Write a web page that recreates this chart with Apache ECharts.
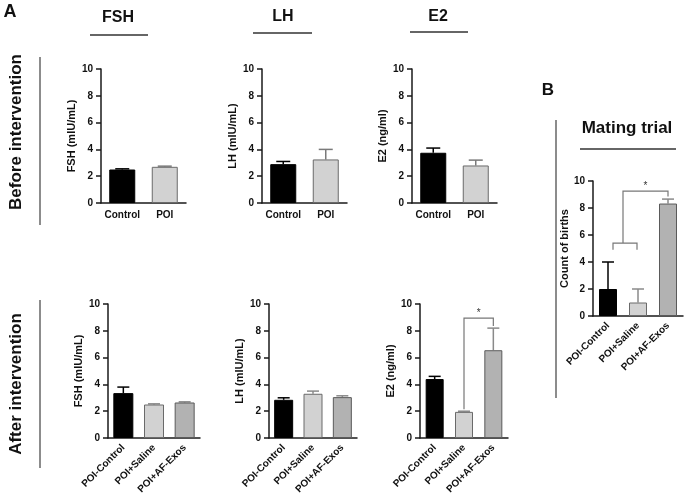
<!DOCTYPE html>
<html><head><meta charset="utf-8">
<script src="https://cdn.jsdelivr.net/npm/echarts@6/dist/echarts.min.js"></script>
<style>html,body{margin:0;padding:0;background:#fff}#c{width:685px;height:499px}</style>
</head><body><div id="c"></div>
<script>
// ---- data ----
const beforeCats = ['Control', 'POI'];
const afterCats = ['POI-Control', 'POI+Saline', 'POI+AF-Exos'];
const yTicks = [0, 2, 4, 6, 8, 10];

const fshBefore = [2.5, 2.7];
const fshBeforeErr = [0.05, 0.05];
const lhBefore = [2.9, 3.25];
const lhBeforeErr = [0.2, 0.75];
const e2Before = [3.75, 2.8];
const e2BeforeErr = [0.35, 0.4];

const fshAfter = [3.35, 2.5, 2.65];
const fshAfterErr = [0.45, 0.05, 0.05];
const lhAfter = [2.85, 3.3, 3.05];
const lhAfterErr = [0.15, 0.2, 0.1];
const e2After = [4.4, 1.95, 6.55];
const e2AfterErr = [0.2, 0.05, 1.65];

const births = [2, 1, 8.33];
const birthsErr = [2, 1, 0.33];

// brackets: [leftCatA, leftCatB (averaged), rightCat, leftBottom, top, rightBottom, showStar]
const e2AfterBrackets = [[1, 1, 2, 2.15, 8.95, 8.35, 1]];
const birthsBrackets = [[0, 0, 1, 4.9, 5.4, 4.9, 0], [0, 1, 2, 5.4, 9.25, 8.85, 1]];

// ---- styles / layout ----
const FONT = 'Liberation Sans, Arial, sans-serif';
const fillBefore = ['#000000', '#d2d2d2'];
const fillAfter = ['#000000', '#d2d2d2', '#b2b2b2'];
const borderBefore = ['#000000', '#6a6a6a'];
const borderAfter = ['#000000', '#6a6a6a', '#5a5a5a'];
const errBefore = ['#000000', '#7a7a7a'];
const errAfter = ['#000000', '#8a8a8a', '#8a8a8a'];

const panels = [
  {grid: {left: 101, top: 69, width: 85, height: 134}, cats: beforeCats, vals: fshBefore, errs: fshBeforeErr, name: 'FSH (mIU/mL)', before: true, barW: 26, gap: 24},
  {grid: {left: 262, top: 69, width: 85, height: 134}, cats: beforeCats, vals: lhBefore, errs: lhBeforeErr, name: 'LH (mIU/mL)', before: true, barW: 26, gap: 24},
  {grid: {left: 412, top: 69, width: 85, height: 134}, cats: beforeCats, vals: e2Before, errs: e2BeforeErr, name: 'E2 (ng/ml)', before: true, barW: 26, gap: 24},
  {grid: {left: 108, top: 304, width: 92, height: 134}, cats: afterCats, vals: fshAfter, errs: fshAfterErr, name: 'FSH (mIU/mL)', before: false, barW: 20, gap: 24},
  {grid: {left: 269, top: 304, width: 88, height: 134}, cats: afterCats, vals: lhAfter, errs: lhAfterErr, name: 'LH (mIU/mL)', before: false, barW: 19, gap: 24},
  {grid: {left: 420, top: 304, width: 88, height: 134}, cats: afterCats, vals: e2After, errs: e2AfterErr, name: 'E2 (ng/ml)', before: false, barW: 18, gap: 24, brackets: e2AfterBrackets},
  {grid: {left: 593, top: 181, width: 90, height: 135}, cats: afterCats, vals: births, errs: birthsErr, name: 'Count of births', before: false, barW: 18, gap: 22, brackets: birthsBrackets}
];

const grids = [], xAxes = [], yAxes = [], series = [];
panels.forEach((p, i) => {
  grids.push(Object.assign({containLabel: false}, p.grid));
  const fills = p.before ? fillBefore : fillAfter;
  const borders = p.before ? borderBefore : borderAfter;
  const errc = p.before ? errBefore : errAfter;
  xAxes.push({
    type: 'category', gridIndex: i, data: p.cats,
    axisLine: {lineStyle: {color: '#1a1a1a', width: 1.5}},
    axisTick: {alignWithLabel: true, length: 5, lineStyle: {color: '#1a1a1a', width: 1.5}},
    axisLabel: {color: '#111', fontFamily: FONT, fontWeight: 'bold', fontSize: 10,
      rotate: p.before ? 0 : 45, margin: p.before ? 7 : 8, interval: 0}
  });
  yAxes.push({
    type: 'value', gridIndex: i, min: yTicks[0], max: yTicks[yTicks.length - 1], interval: 2,
    name: p.name, nameLocation: 'middle', nameGap: p.gap,
    nameTextStyle: {color: '#111', fontFamily: FONT, fontWeight: 'bold', fontSize: 11},
    axisLine: {show: true, lineStyle: {color: '#1a1a1a', width: 1.5}},
    axisTick: {show: true, length: 5, lineStyle: {color: '#1a1a1a', width: 1.5}},
    axisLabel: {color: '#111', fontFamily: FONT, fontWeight: 'bold', fontSize: 10, margin: 8},
    splitLine: {show: false}
  });
  series.push({
    type: 'bar', xAxisIndex: i, yAxisIndex: i, barWidth: p.barW,
    data: p.vals.map((v, k) => ({value: v, itemStyle: {color: fills[k], borderColor: borders[k], borderWidth: 1}})),
    z: 3
  });
  series.push({
    type: 'custom', xAxisIndex: i, yAxisIndex: i, z: 2, clip: false,
    data: p.vals.map((v, k) => [k, v, p.errs[k]]),
    renderItem: (params, api) => {
      const k = api.value(0), v = api.value(1), e = api.value(2);
      const a = api.coord([k, v]), b = api.coord([k, v + e]);
      const half = p.before ? 7 : 6;
      const col = errc[k];
      return {type: 'group', children: [
        {type: 'line', shape: {x1: a[0], y1: a[1], x2: b[0], y2: b[1]}, style: {stroke: col, lineWidth: 1.5}},
        {type: 'line', shape: {x1: b[0] - half, y1: b[1], x2: b[0] + half, y2: b[1]}, style: {stroke: col, lineWidth: 1.5}}
      ]};
    }
  });
  if (p.brackets) {
    series.push({
      type: 'custom', xAxisIndex: i, yAxisIndex: i, z: 4, clip: false,
      data: p.brackets,
      renderItem: (params, api) => {
        const la = api.value(0), lb = api.value(1), rc = api.value(2);
        const yl = api.value(3), yt = api.value(4), yr = api.value(5), star = api.value(6);
        let xl = (api.coord([la, yt])[0] + api.coord([lb, yt])[0]) / 2;
        let xr = api.coord([rc, yt])[0];
        if (!star) { xl += 5; xr -= 1; }
        const pTop = api.coord([rc, yt])[1];
        const pl = api.coord([la, yl])[1];
        const pr = api.coord([rc, yr])[1];
        const children = [{type: 'polyline', shape: {points: [[xl, pl], [xl, pTop], [xr, pTop], [xr, pr]]},
          style: {stroke: '#777', lineWidth: 1.2, fill: null}}];
        if (star) {
          children.push({type: 'text', x: (xl + xr) / 2, y: pTop - 5,
            style: {text: '*', fill: '#333', fontSize: 10, fontFamily: FONT, align: 'center', verticalAlign: 'middle'}});
        }
        return {type: 'group', children};
      }
    });
  }
});

const txt = (text, x, y, size, extra) => Object.assign({type: 'text', x, y,
  style: {text, fill: '#111', fontFamily: FONT, fontWeight: 'bold', fontSize: size, align: 'center', verticalAlign: 'middle'}}, extra || {});
const hline = (x1, x2, y) => ({type: 'line', shape: {x1, y1: y, x2, y2: y}, style: {stroke: '#333', lineWidth: 1.5}});
const vline = (x, y1, y2) => ({type: 'line', shape: {x1: x, y1, x2: x, y2}, style: {stroke: '#666', lineWidth: 1.5}});

const graphics = [
  txt('A', 10, 12, 18),
  txt('B', 548, 90, 17),
  txt('FSH', 118, 18, 16), hline(90, 148, 35),
  txt('LH', 283, 17, 16), hline(253, 312, 33),
  txt('E2', 438, 17, 16), hline(410, 468, 32),
  txt('Mating trial', 627, 128, 17), hline(580, 676, 149),
  Object.assign(txt('Before intervention', 16, 132, 17), {rotation: Math.PI / 2}),
  vline(40, 57, 225),
  Object.assign(txt('After intervention', 16, 384, 17), {rotation: Math.PI / 2}),
  vline(40, 300, 468),
  vline(556, 120, 398)
];

const chart = echarts.init(document.getElementById('c'), null, {renderer: 'canvas'});
chart.setOption({
  backgroundColor: '#ffffff',
  animation: false,
  grid: grids, xAxis: xAxes, yAxis: yAxes, series,
  graphic: graphics
});
</script></body></html>
